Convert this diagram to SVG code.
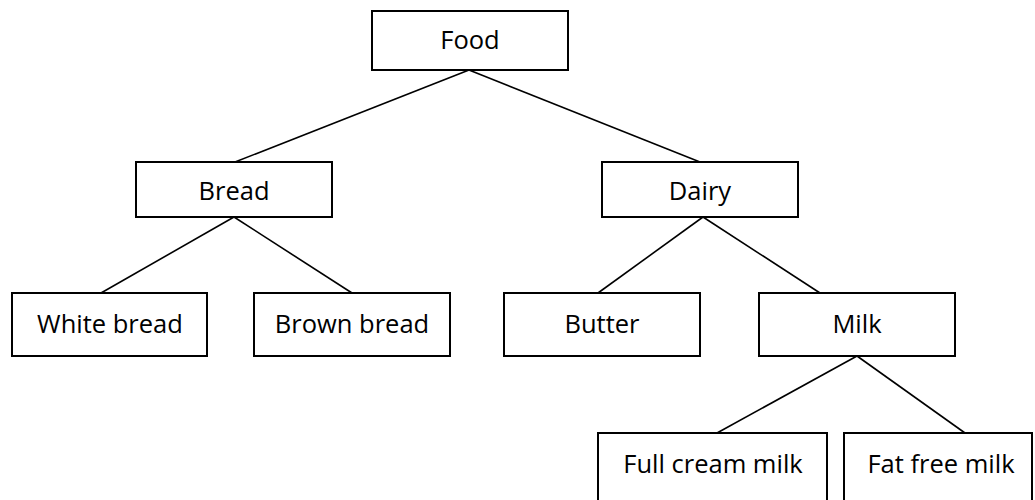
<svg xmlns="http://www.w3.org/2000/svg" width="1035" height="500" viewBox="0 0 1035 500">
<style>
.box{fill:#fff;stroke:#000;stroke-width:2}
.lbl{font-family:"Open Sans","Liberation Sans",sans-serif;font-size:25.5px;fill:#000;text-anchor:middle}
.conn line{stroke:#000;stroke-width:1.6}
</style>
<rect width="1035" height="500" fill="#fff"/>
<g id="connectors" class="conn">
<line x1="469" y1="70" x2="235" y2="162"/>
<line x1="469" y1="70" x2="700" y2="162"/>
<line x1="234" y1="217" x2="101" y2="293"/>
<line x1="234" y1="217" x2="352" y2="293"/>
<line x1="703" y1="217" x2="598" y2="293"/>
<line x1="703" y1="217" x2="820" y2="293"/>
<line x1="857" y1="356" x2="717" y2="433"/>
<line x1="857" y1="356" x2="965" y2="433"/>
</g>
<g id="food"><rect class="box" x="372" y="11" width="196" height="59"/><text class="lbl" x="470" y="49">Food</text></g>
<g id="bread"><rect class="box" x="136" y="162" width="196" height="55"/><text class="lbl" x="234" y="200">Bread</text></g>
<g id="dairy"><rect class="box" x="602" y="162" width="196" height="55"/><text class="lbl" x="700" y="200">Dairy</text></g>
<g id="white-bread"><rect class="box" x="12" y="293" width="195" height="63"/><text class="lbl" x="110" y="333">White bread</text></g>
<g id="brown-bread"><rect class="box" x="254" y="293" width="196" height="63"/><text class="lbl" x="352" y="333">Brown bread</text></g>
<g id="butter"><rect class="box" x="504" y="293" width="196" height="63"/><text class="lbl" x="602" y="333">Butter</text></g>
<g id="milk"><rect class="box" x="759" y="293" width="196" height="63"/><text class="lbl" x="857" y="333">Milk</text></g>
<g id="full-cream-milk"><rect class="box" x="598" y="433" width="229" height="80"/><text class="lbl" x="713" y="473">Full cream milk</text></g>
<g id="fat-free-milk"><rect class="box" x="844" y="433" width="188" height="80"/><text class="lbl" x="941" y="473">Fat free milk</text></g>
</svg>
